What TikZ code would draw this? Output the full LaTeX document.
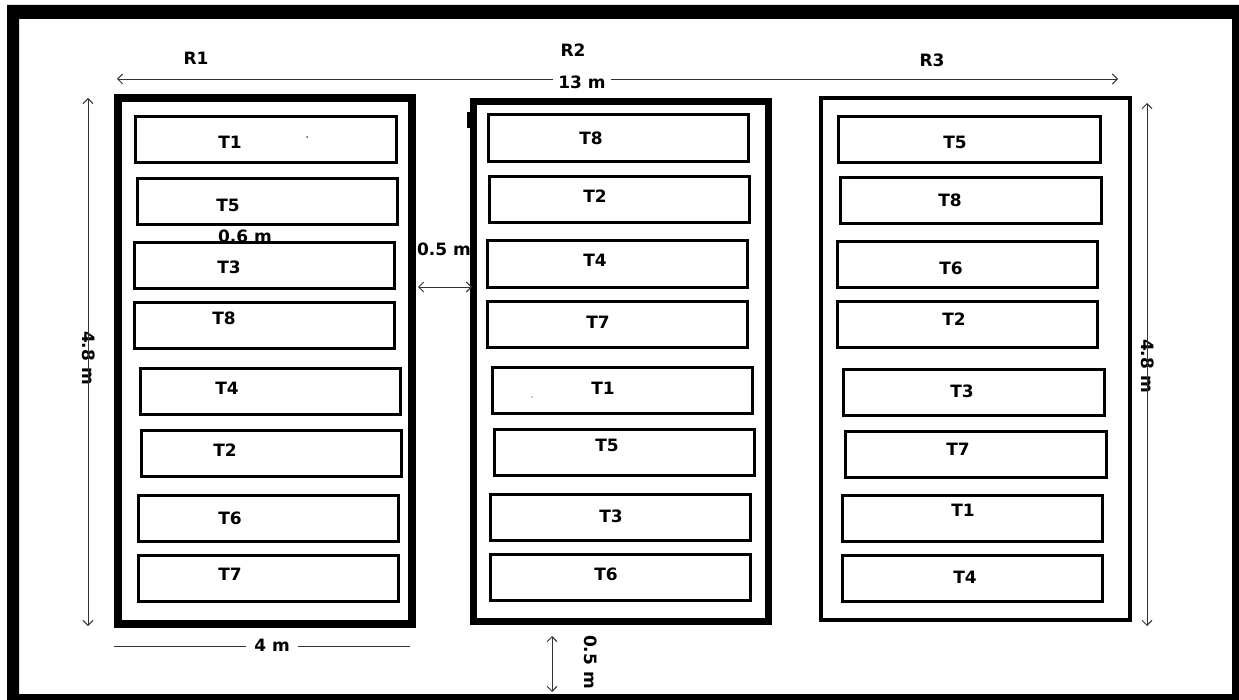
\documentclass[tikz,border=0pt]{standalone}
\usepackage{fontspec}
\setmainfont{DejaVu Sans}
\usetikzlibrary{arrows.meta}
\begin{document}
\begin{tikzpicture}[x=1pt,y=-1pt,
  tbl/.style={draw=black,line width=3pt},
  lbl/.style={font=\fontsize{17}{19}\selectfont\bfseries,inner sep=0pt},
  dlbl/.style={font=\fontsize{17}{19}\selectfont\bfseries,inner xsep=5pt,inner ysep=2pt},
  dim/.style={draw=black!80,line width=0.9pt},
  barb/.tip={Straight Barb[length=5pt,width=10pt]}]
\useasboundingbox (0,0) rectangle (1239,700);
\fill[white] (0,0) rectangle (1239,700);
% outer frame
\fill[black,even odd rule] (7,5) rectangle (1239,700) (19,19) rectangle (1232,694);
% rooms
\draw[line width=8pt] (118,98) rectangle (412,624);
\draw[line width=7pt] (473,102) rectangle (768,621);
\fill[black] (467,112) rectangle (470,128);
\draw[line width=4pt] (821,98) rectangle (1130,620);
% room labels
\node[lbl] (r1) at (196,58) {R1};
\node[lbl] (r2) at (573,50) {R2};
\node[lbl] (r3) at (932,60) {R3};
% tables in R1
\draw[tbl] (135,117) rectangle (396,163); \node[lbl] (a1) at (230,142) {T1};
\draw[tbl] (137,179) rectangle (397,225); \node[lbl] (a2) at (228,205) {T5};
\draw[tbl] (134,243) rectangle (394,289); \node[lbl] (a3) at (229,267) {T3};
\draw[tbl] (134,303) rectangle (394,349); \node[lbl] (a4) at (224,318) {T8};
\draw[tbl] (140,368) rectangle (400,414); \node[lbl] (a5) at (227,388) {T4};
\draw[tbl] (141,430) rectangle (401,476); \node[lbl] (a6) at (225,450) {T2};
\draw[tbl] (138,495) rectangle (398,541); \node[lbl] (a7) at (230,518) {T6};
\draw[tbl] (138,555) rectangle (398,601); \node[lbl] (a8) at (230,574) {T7};
\fill[black!70] (307,137) circle (1pt);
\node[lbl] (g06) at (245,236) {0.6 m};
% tables in R2
\draw[tbl] (488,115) rectangle (748,162); \node[lbl] (b1) at (591,138) {T8};
\draw[tbl] (489,177) rectangle (749,223); \node[lbl] (b2) at (595,196) {T2};
\draw[tbl] (487,241) rectangle (747,288); \node[lbl] (b3) at (595,260) {T4};
\draw[tbl] (487,302) rectangle (747,348); \node[lbl] (b4) at (598,322) {T7};
\draw[tbl] (492,367) rectangle (752,413); \node[lbl] (b5) at (603,388) {T1};
\draw[tbl] (494,429) rectangle (754,475); \node[lbl] (b6) at (607,445) {T5};
\draw[tbl] (490,494) rectangle (750,540); \node[lbl] (b7) at (611,516) {T3};
\draw[tbl] (490,554) rectangle (750,600); \node[lbl] (b8) at (606,574) {T6};
\fill[black!40] (532,397) circle (0.8pt);
% tables in R3
\draw[tbl] (838,117) rectangle (1100,163); \node[lbl] (c1) at (955,142) {T5};
\draw[tbl] (840,178) rectangle (1101,224); \node[lbl] (c2) at (950,200) {T8};
\draw[tbl] (837,242) rectangle (1097,288); \node[lbl] (c3) at (951,268) {T6};
\draw[tbl] (837,302) rectangle (1097,348); \node[lbl] (c4) at (954,319) {T2};
\draw[tbl] (843,369) rectangle (1104,415); \node[lbl] (c5) at (962,391) {T3};
\draw[tbl] (845,431) rectangle (1106,477); \node[lbl] (c6) at (958,449) {T7};
\draw[tbl] (842,495) rectangle (1102,541); \node[lbl] (c7) at (963,510) {T1};
\draw[tbl] (842,555) rectangle (1102,601); \node[lbl] (c8) at (965,577) {T4};
% 13 m
\coordinate (w13) at (117,79);
\coordinate (e13) at (1118,79);
\node[dlbl] (t13) at (582,82) {13 m};
\draw[dim,barb-] (w13) -- (w13 -| t13.west);
\draw[dim,-barb] (e13 -| t13.east) -- (e13);
% 4.8 m left
\coordinate (nl) at (88,98);
\coordinate (sl) at (88,626);
\node[dlbl,rotate=-90] (tl) at (89,358) {4.8 m};
\draw[dim,barb-] (nl) -- (nl |- tl.east);
\draw[dim,-barb] (sl |- tl.west) -- (sl);
% 4.8 m right
\coordinate (nr) at (1147,103);
\coordinate (sr) at (1147,626);
\node[dlbl,rotate=-90] (tr) at (1148,366) {4.8 m};
\draw[dim,barb-] (nr) -- (nr |- tr.east);
\draw[dim,-barb] (sr |- tr.west) -- (sr);
% 0.5 m gap between R1 and R2
\node[lbl] (t05a) at (444,249) {0.5 m};
\coordinate (gw) at (418,287);
\coordinate (ge) at (472,287);
\draw[dim,barb-barb] (gw) -- (ge);
% 4 m
\coordinate (w4) at (114,646);
\coordinate (e4) at (410,646);
\node[dlbl,inner xsep=8pt] (t4) at (272,645) {4 m};
\draw[dim] (w4) -- (w4 -| t4.west);
\draw[dim] (e4 -| t4.east) -- (e4);
% 0.5 m bottom
\coordinate (bn) at (552,636);
\coordinate (bs) at (552,692);
\draw[dim,barb-barb] (bn) -- (bs);
\node[lbl,rotate=-90] (t05b) at (591,662) {0.5 m};
\end{tikzpicture}
\end{document}
